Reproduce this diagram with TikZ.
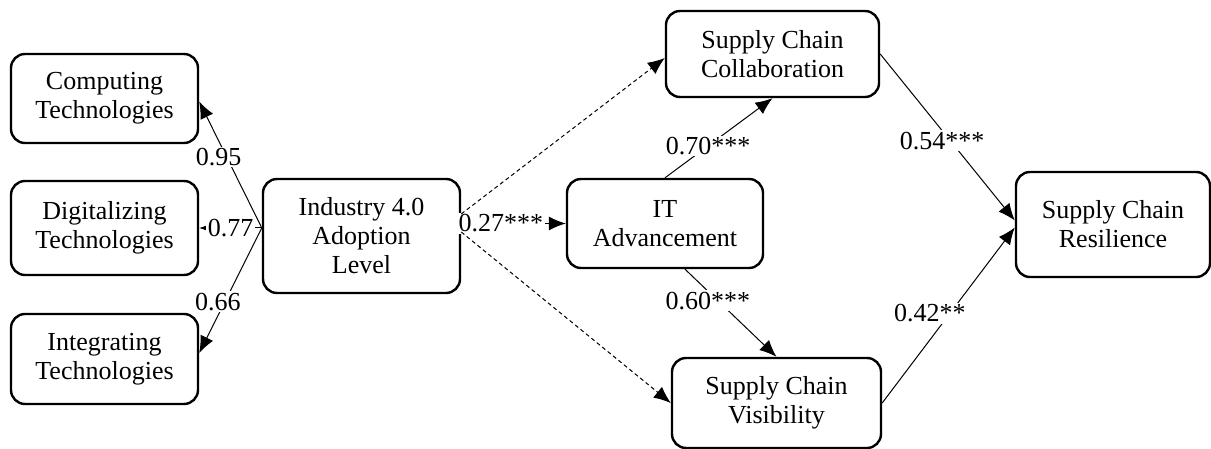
\documentclass[tikz,border=0pt]{standalone}
\usepackage{fontspec}
\setmainfont{Liberation Serif}
\usetikzlibrary{arrows.meta}
\begin{document}
\begin{tikzpicture}[x=1pt,y=-1pt,
 box/.style={draw, line width=2.4pt, rounded corners=14pt, align=center, font=\fontsize{26}{29}\selectfont, inner sep=0pt},
 link/.style={line width=1pt, -{Latex[length=17pt,width=14pt]}},
 dlink/.style={link, dash pattern=on 4pt off 3pt},
 lbl/.style={fill=white, inner sep=1.5pt, font=\fontsize{26}{29}\selectfont}]
\useasboundingbox (0,0) rectangle (1211,449);
\node[box, minimum width=187pt, minimum height=89pt] (comp) at (104.5,98.5) {Computing\\Technologies};
\node[box, minimum width=187pt, minimum height=94pt] (digi) at (104.5,228) {Digitalizing\\Technologies};
\node[box, minimum width=187pt, minimum height=90pt] (integ) at (104.5,359) {Integrating\\Technologies};
\node[box, minimum width=197pt, minimum height=114pt] (ind) at (361.5,236) {Industry 4.0\\Adoption\\Level};
\node[box, minimum width=196pt, minimum height=89pt] (it) at (665,223.5) {IT\\Advancement};
\node[box, minimum width=213pt, minimum height=86pt] (collab) at (772.5,54) {Supply Chain\\Collaboration};
\node[box, minimum width=209pt, minimum height=90pt] (vis) at (776.5,403) {Supply Chain\\Visibility};
\node[box, minimum width=194pt, minimum height=105pt] (res) at (1113,224.5) {Supply Chain\\Resilience};
\coordinate (isrc) at ([yshift=8pt]ind.west);
\coordinate (osrc) at ([yshift=4pt]ind.east);
\draw[link] (isrc) -- node[lbl,pos=0.56,xshift=-8pt]{0.95} ([yshift=-3pt]comp.east);
\draw[link] (isrc) -- node[lbl,pos=0.5]{0.77} (digi.east);
\draw[link] (isrc) -- node[lbl,pos=0.59,xshift=-7pt]{0.66} ([yshift=6pt]integ.east);
\draw[link] (ind.east |- it.west) -- node[lbl,pos=0.38]{0.27***} (it.west);
\draw[dlink] ([yshift=22pt]ind.east) -- ([yshift=-4pt]collab.west);
\draw[dlink] (osrc) -- (vis.west);
\draw[link] (it.north) -- node[lbl,pos=0.4]{0.70***} (collab.south);
\draw[link] ([xshift=20pt]it.south) -- node[lbl,pos=0.36,xshift=-10pt]{0.60***} (vis.north);
\draw[link] (collab.east) -- node[lbl,pos=0.52,xshift=-8pt]{0.54***} ([yshift=4pt]res.west);
\draw[link] (vis.east) -- node[lbl,pos=0.51,xshift=-20pt]{0.42**} ([yshift=-3pt]res.west);
\end{tikzpicture}
\end{document}
